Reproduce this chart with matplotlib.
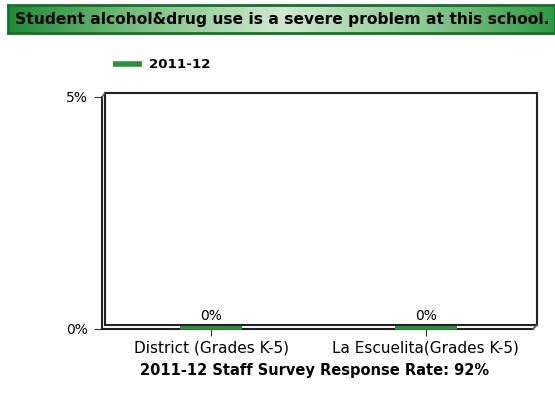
import matplotlib.pyplot as plt
import numpy as np
from matplotlib.colors import LinearSegmentedColormap
from matplotlib.lines import Line2D
from matplotlib.transforms import offset_copy

plt.rcParams["font.family"] = ["DejaVu Sans"]

title = "Student alcohol&drug use is a severe problem at this school."
categories = ["District (Grades K-5)", "La Escuelita(Grades K-5)"]
values = [0, 0]
series_name = "2011-12"
xlabel = "2011-12 Staff Survey Response Rate: 92%"
ytick_vals = [0, 5]
ytick_labels = ["0%", "5%"]

W, H = 555, 401
green = "#2f8f3f"
edge = "#222222"
fig = plt.figure(figsize=(W / 100, H / 100), dpi=100)


def px(x, y):
    # pixel position -> figure fraction
    return x / W, 1 - y / H


def fline(p, q, **kw):
    (x0, y0), (x1, y1) = px(*p), px(*q)
    fig.add_artist(Line2D([x0, x1], [y0, y1], **kw))


# title banner with green gradient
bax = fig.add_axes([8 / W, 1 - 33 / H, 547 / W, 28 / H])
cmap = LinearSegmentedColormap.from_list(
    "banner", ["#1f8a37", "#7cc383", "#cfe9cf", "#8fcc95", "#2e9a43"])
grad = np.linspace(0, 1, 256).reshape(1, -1)
bax.imshow(grad, aspect="auto", cmap=cmap, extent=(0, 1, 0, 1))
bax.set_xlim(0, 1)
bax.set_ylim(0, 1)
bax.set_xticks([])
bax.set_yticks([])
for s in bax.spines.values():
    s.set_color("#1a6e2c")
    s.set_linewidth(2)
bax.text(0.013, 0.47, title, fontsize=11.2, fontweight="bold", va="center", ha="left", color="black")

# main chart (front face of the pseudo 3d frame)
ax = fig.add_axes([102 / W, 1 - 329 / H, 431 / W, 232 / H])
x = np.arange(len(categories))
bar_w = 0.29
lift = offset_copy(ax.transData, fig=fig, x=0, y=2, units="dots")
ax.hlines(values, x - bar_w / 2, x + bar_w / 2, colors=green, linewidth=4,
          transform=lift, clip_on=False, zorder=5, label=series_name)
ax.set_xlim(-0.51, 1.50)
ax.set_ylim(0, 5)
ax.set_yticks(ytick_vals)
ax.set_yticklabels(ytick_labels, fontsize=10)
ax.set_xticks(x)
ax.set_xticklabels(categories, fontsize=11)
ax.tick_params(axis="y", length=6, pad=4, color="#333333")
ax.tick_params(axis="x", length=5, pad=3, color="#333333")
ax.spines["top"].set_visible(False)
ax.spines["right"].set_visible(False)
for s in ("left", "bottom"):
    ax.spines[s].set_color(edge)
    ax.spines[s].set_linewidth(1.5)
ax.patch.set_alpha(0)
for xi, v in zip(x, values):
    ax.text(xi, v, f"{v}%", ha="center", va="bottom", fontsize=10,
            transform=offset_copy(ax.transData, fig=fig, x=0, y=6, units="dots"))

# back wall edges
fline((105, 93), (537, 93), color=edge, lw=1.5)
fline((537, 93), (537, 325), color=edge, lw=1.5)
fline((105, 93), (105, 325), color=edge, lw=1.5)
fline((105, 325), (537, 325), color=edge, lw=1.5)
fline((533, 329), (537, 325), color="#555555", lw=1.2)
fline((102, 97), (105, 93), color="#555555", lw=1.0)

fig.text(315 / W, 1 - 371 / H, xlabel, ha="center", va="center", fontsize=10.5, fontweight="bold")

leg = fig.legend(loc="center left", bbox_to_anchor=px(113, 65), frameon=False,
                 borderpad=0, borderaxespad=0, handlelength=2.2, handletextpad=0.5,
                 prop={"weight": "bold", "size": 9.6})
for h in leg.legend_handles:
    h.set_linewidth(4)

fig.savefig("out.png", dpi=100)
